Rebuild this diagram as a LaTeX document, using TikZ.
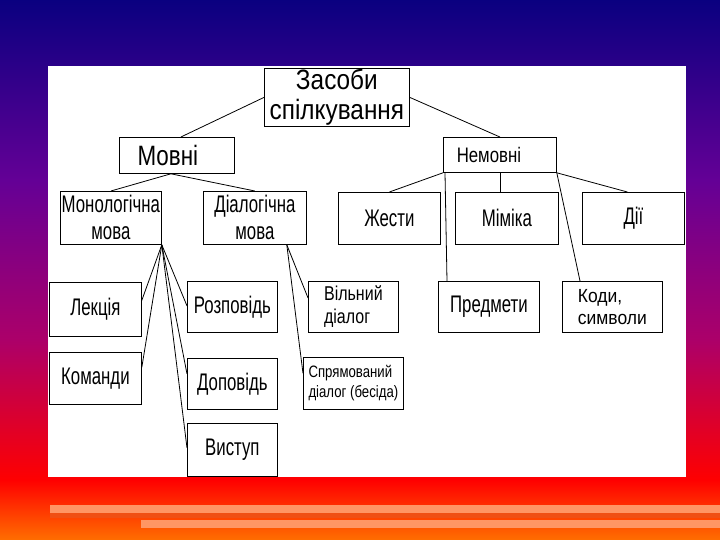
\documentclass[tikz,border=0pt]{standalone}
\usepackage{fontspec}
\setmainfont{Liberation Sans}[FakeStretch=0.7]
\newfontfamily\fb{Liberation Sans}[FakeStretch=0.8]
\newfontfamily\fc{Liberation Sans}[FakeStretch=0.87]
\newfontfamily\kf{Liberation Sans}[FakeStretch=0.92]
\usetikzlibrary{calc}
\definecolor{gA}{RGB}{10,0,128}
\definecolor{gB}{RGB}{100,0,150}
\definecolor{gC}{RGB}{172,0,105}
\definecolor{gD}{RGB}{255,0,0}
\definecolor{gE}{RGB}{255,110,0}
\definecolor{stripe}{RGB}{255,150,100}
\definecolor{band}{RGB}{240,80,20}
\tikzset{
  box/.style={draw=black, line width=0.8pt, fill=white, inner sep=0pt, anchor=north west, align=center},
  std/.style={font=\fontsize{24}{27}\selectfont},
  link/.style={draw=black, line width=0.8pt}
}
\begin{document}
\begin{tikzpicture}[x=1pt,y=-1pt]
\useasboundingbox (0,0) rectangle (720,540);
% background
\shade[top color=gA,bottom color=gB] (0,0) rectangle (720,180.5);
\shade[top color=gB,bottom color=gC] (0,180) rectangle (720,340.5);
\shade[top color=gC,bottom color=gD] (0,340) rectangle (720,480.5);
\shade[top color=gD,bottom color=gE] (0,480) rectangle (720,540);
\fill[band] (50,513) rectangle (720,518);
\fill[stripe] (50,505) rectangle (720,513);
\fill[stripe] (141,520) rectangle (720,528);
% panel
\fill[white] (48,66) rectangle (686,477);
% nodes
\node[box, minimum width=145pt, minimum height=58pt, font=\fc\fontsize{28}{30}\selectfont] (zas) at (264,68) {Засоби\\спілкування};
\node[box, minimum width=115pt, minimum height=36pt, font=\fb\fontsize{28}{32}\selectfont] (movni) at (119,137) {Мовні\hspace*{18pt}};
\node[box, minimum width=113pt, minimum height=35pt, font=\fb\fontsize{21}{25}\selectfont] (nemovni) at (443,137) {\raisebox{-4pt}{Немовні}\hspace*{22pt}};
\node[box, std, minimum width=101pt, minimum height=53pt] (mono) at (60,191) {Монологічна\\мова};
\node[box, std, minimum width=103pt, minimum height=53pt] (dial) at (203,191) {Діалогічна\\мова};
\node[box, std, minimum width=102pt, minimum height=52pt] (zhesty) at (338,192) {Жести};
\node[box, std, minimum width=103pt, minimum height=52pt] (mimika) at (455,192) {Міміка};
\node[box, std, minimum width=102pt, minimum height=52pt] (dii) at (582,192) {Дії};
\node[box, std, minimum width=92pt, minimum height=54pt] (lekcia) at (49,282) {Лекція};
\node[box, std, minimum width=92pt, minimum height=52pt] (komandy) at (49,352) {Команди};
\node[box, std, minimum width=90pt, minimum height=51pt] (rozpovid) at (187,281) {Розповідь};
\node[box, std, minimum width=90pt, minimum height=51pt] (dopovid) at (187,358) {Доповідь};
\node[box, std, minimum width=90pt, minimum height=53pt] (vystup) at (187,423) {Виступ};
\node[box, align=left, minimum width=90pt, minimum height=51pt, font=\fb\fontsize{20}{23}\selectfont] (vilnyi) at (308,281) {Вільний\\діалог};
\node[box, minimum width=100pt, minimum height=52pt, align=left, font=\fb\fontsize{16.5}{20}\selectfont] (spriam) at (303,357) {Спрямований\\діалог (бесіда)};
\node[box, std, minimum width=101pt, minimum height=51pt] (predmety) at (438,281) {Предмети};
\node[box, minimum width=100pt, minimum height=51pt, align=left, font=\kf\fontsize{19}{22}\selectfont] (kody) at (562,281) {Коди,\\символи};
% connectors
\draw[link] (zas.west) -- ([xshift=4pt]movni.north);
\draw[link] (zas.east) -- (nemovni.north);
\draw[link] ([xshift=-6pt]movni.south) -- (mono.north);
\draw[link] ([xshift=-6pt]movni.south) -- (dial.north);
\draw[link] (nemovni.south west) -- (zhesty.north);
\draw[link] (nemovni.south) -- (nemovni.south |- mimika.north);
\draw[link] (nemovni.south east) -- ([xshift=-6pt]dii.north);
\draw[link] ([xshift=2pt]nemovni.south west) -- ([xshift=9pt]predmety.north west);
\draw[link] (nemovni.south east) -- ([xshift=18pt]kody.north west);
\draw[link] (mono.south east) -- ([yshift=9pt]lekcia.east);
\draw[link] (mono.south east) -- ([yshift=11pt]komandy.east);
\draw[link] (mono.south east) -- ([yshift=1pt]rozpovid.west);
\draw[link] (mono.south east) -- ([yshift=10pt]dopovid.west);
\draw[link] (mono.south east) -- ([yshift=2pt]vystup.west);
\draw[link] ([xshift=-20pt]dial.south east) -- ([yshift=9pt]vilnyi.west);
\draw[link] ([xshift=-20pt]dial.south east) -- ([yshift=10pt]spriam.west);
\end{tikzpicture}
\end{document}
